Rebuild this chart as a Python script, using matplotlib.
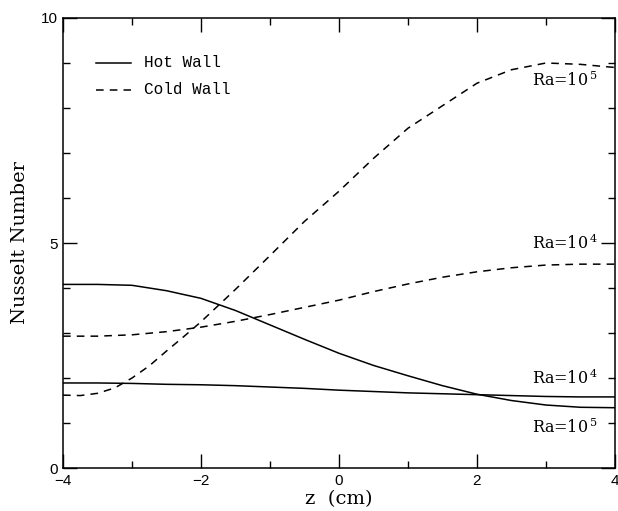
import matplotlib
matplotlib.use("Agg")
import matplotlib.pyplot as plt
from matplotlib.ticker import MultipleLocator

z_hot = [-4, -3.5, -3, -2.5, -2, -1.5, -1, -0.5, 0, 0.5, 1, 1.5, 2, 2.5, 3, 3.5, 4]
hot_1e5 = [4.08, 4.08, 4.06, 3.94, 3.77, 3.50, 3.18, 2.86, 2.55, 2.28, 2.05, 1.83, 1.64, 1.50, 1.40, 1.35, 1.34]
hot_1e4 = [1.89, 1.89, 1.88, 1.86, 1.85, 1.83, 1.80, 1.77, 1.73, 1.70, 1.67, 1.65, 1.63, 1.61, 1.59, 1.58, 1.58]
cold_1e4 = [2.93, 2.93, 2.96, 3.03, 3.13, 3.26, 3.41, 3.57, 3.73, 3.92, 4.09, 4.24, 4.36, 4.45, 4.51, 4.53, 4.53]

z_cold5 = [-4, -3.75, -3.5, -3.25, -3, -2.75, -2.5, -2.25, -2, -1.5, -1, -0.5, 0, 0.5, 1, 1.5, 2, 2.5, 3, 3.5, 4]
cold_1e5 = [1.62, 1.61, 1.66, 1.78, 2.00, 2.27, 2.60, 2.92, 3.25, 3.97, 4.72, 5.48, 6.15, 6.88, 7.55, 8.05, 8.55, 8.85, 9.00, 8.97, 8.90]

xticks = [-4, -2, 0, 2, 4]
yticks = [0, 5, 10]

fig = plt.figure(figsize=(6.18, 5.11), dpi=100)
ax = fig.add_axes([0.102, 0.0841, 0.893, 0.8807])

lw = 1.1
dash = (0, (5, 4))
ax.plot(z_hot, hot_1e5, color='black', lw=lw)
ax.plot(z_hot, hot_1e4, color='black', lw=lw)
ax.plot(z_hot, cold_1e4, color='black', lw=lw, linestyle=dash)
ax.plot(z_cold5, cold_1e5, color='black', lw=lw, linestyle=dash)

ax.set_xlim(-4, 4)
ax.set_ylim(0, 10)
ax.set_xticks(xticks)
ax.set_yticks(yticks)
ax.set_xticklabels(['\u22124', '\u22122', '0', '2', '4'], fontfamily='Liberation Sans', fontsize=11)
ax.set_yticklabels([str(v) for v in yticks], fontfamily='Liberation Sans', fontsize=11)
ax.xaxis.set_minor_locator(MultipleLocator(1))
ax.yaxis.set_minor_locator(MultipleLocator(1))
ax.tick_params(which='both', direction='in', top=True, right=True, width=1.0, color='black')
ax.tick_params(which='major', length=10, pad=4)
ax.tick_params(which='minor', length=5)
for s in ax.spines.values():
    s.set_linewidth(1.1)

ax.set_xlabel('z  (cm)', fontfamily='DejaVu Serif', fontsize=14, labelpad=2)
ax.set_ylabel('Nusselt Number', fontfamily='DejaVu Serif', fontsize=14, labelpad=8)

plt.rcParams['mathtext.fontset'] = 'dejavuserif'
lab_kw = dict(fontfamily='DejaVu Serif', fontsize=11.5, color='black', ha='left', va='center')
ax.text(2.8, 8.6, 'Ra=10$^{\\,5}$', **lab_kw)
ax.text(2.8, 5.0, 'Ra=10$^{\\,4}$', **lab_kw)
ax.text(2.8, 2.0, 'Ra=10$^{\\,4}$', **lab_kw)
ax.text(2.8, 0.9, 'Ra=10$^{\\,5}$', **lab_kw)

# legend drawn manually
ax.plot([-3.52, -3.02], [9.0, 9.0], color='black', lw=lw)
ax.plot([-3.52, -3.02], [8.4, 8.4], color='black', lw=lw, linestyle=dash)
leg_kw = dict(fontfamily='Liberation Mono', fontsize=11.5, ha='left', va='center')
ax.text(-2.82, 9.0, 'Hot Wall', **leg_kw)
ax.text(-2.82, 8.4, 'Cold Wall', **leg_kw)

fig.savefig('out.png', dpi=100)
